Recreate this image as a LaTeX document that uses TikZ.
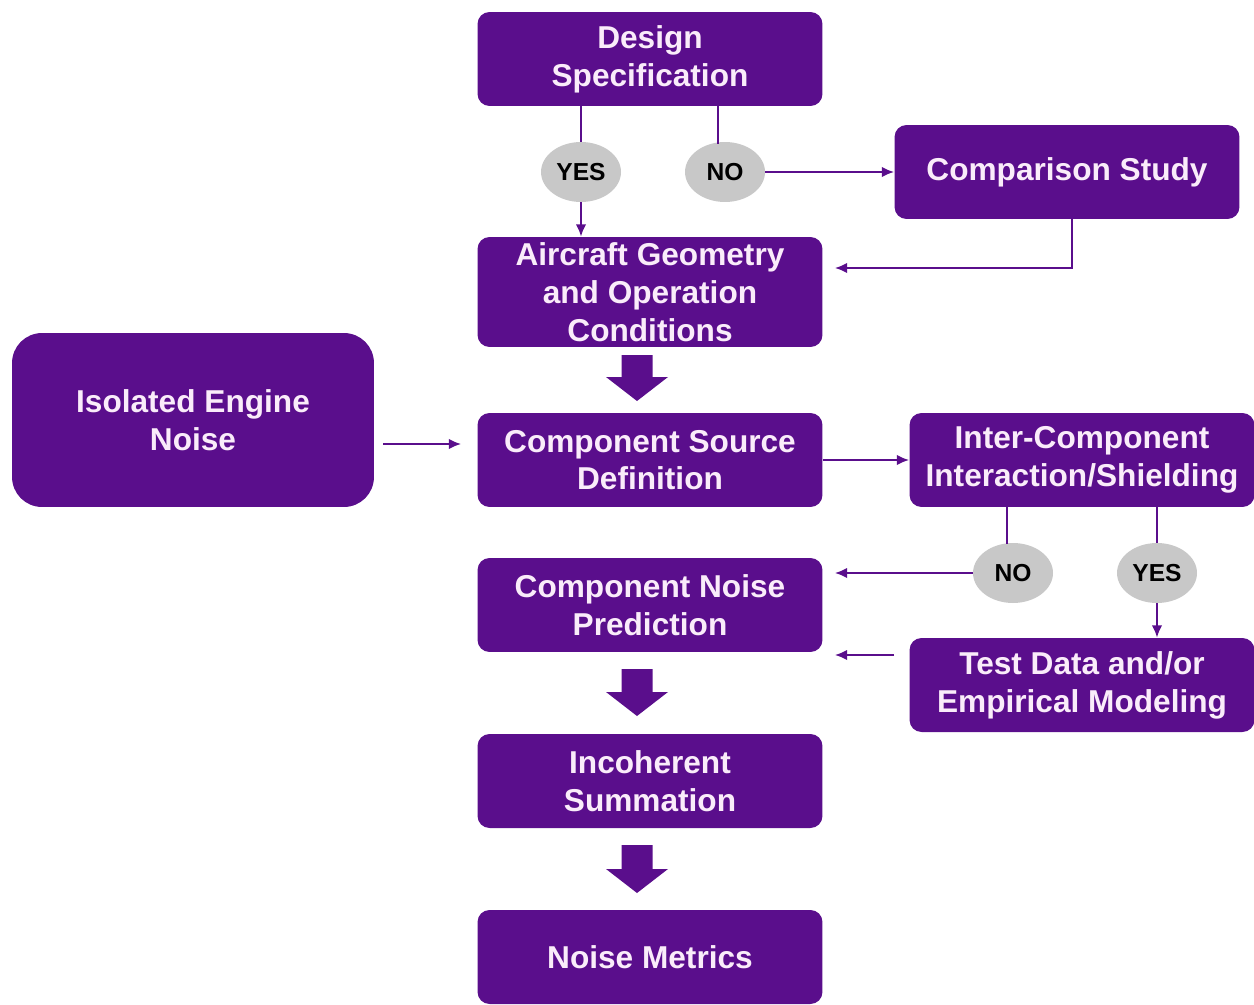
\documentclass[tikz,border=0pt]{standalone}
\usepackage{fontspec}
\setmainfont{Liberation Sans}
\usetikzlibrary{shapes.geometric,arrows.meta,calc}
\definecolor{pur}{RGB}{90,14,140}
\definecolor{boxtext}{RGB}{250,236,250}
\definecolor{ovalgray}{RGB}{200,200,200}
\tikzset{
  box/.style={draw=none, fill=pur, rounded corners=0.24cm, minimum width=6.9cm, minimum height=1.88cm,
    inner xsep=2pt, inner ysep=0pt, align=center, text=boxtext,
    font=\fontsize{18}{21.5}\selectfont\bfseries},
  bigbox/.style={box, rounded corners=0.6cm, minimum width=7.24cm, minimum height=3.48cm},
  oval/.style={ellipse, fill=ovalgray, draw=none, minimum width=1.6cm, minimum height=1.2cm, inner sep=0pt,
    text=black, font=\fontsize{14}{16}\selectfont\bfseries},
  conn/.style={draw=pur, line width=1.2pt},
  arr/.style={conn, -{Latex[length=7pt,width=6pt]}},
}
\begin{document}
\begin{tikzpicture}[x=0.02cm,y=-0.02cm]
\useasboundingbox (0,0) rectangle (1254,1004);
\node[box] (ds) at (650,59) {Design\\Specification};
\node[box] (cs) at (1067,172) {Comparison Study};
\node[box, minimum height=2.2cm] (air) at (650,292) {Aircraft Geometry\\and Operation\\Conditions};
\node[bigbox] (ien) at (193,420) {Isolated Engine\\Noise};
\node[box] (csd) at (650,460) {Component Source\\Definition};
\node[box] (ic) at (1082,460) {Inter-Component\\Interaction/Shielding};
\node[box] (cnp) at (650,605) {Component Noise\\Prediction};
\node[box] (td) at (1082,685) {Test Data and/or\\Empirical Modeling};
\node[box] (is) at (650,781) {Incoherent\\Summation};
\node[box] (nm) at (650,957) {Noise Metrics};

\node[oval] (y1) at (581,172) {YES};
\node[oval] (n1) at (725,172) {NO};
\node[oval] (n2) at (1013,573) {NO};
\node[oval] (y2) at (1157,573) {YES};

% connectors
\draw[conn] (ds.south -| y1) -- (y1);
\draw[arr] (y1) -- (y1 |- air.north);
\draw[conn] ($(ds.south -| n1)+(-7,0)$) -- ($(n1.north)+(-7,2)$);
\draw[arr] (n1) -- (cs.west);
\draw[arr] ($(cs.south)+(5,0)$) |- ($(air.east)+(12,-24)$);
\draw[arr] ($(ien.east)+(9,24)$) -- ($(csd.west)+(-16,-16)$);
\draw[arr] (csd.east) -- (ic.west);
\draw[conn] ($(ic.south -| n2)+(-6,0)$) -- ($(n2.north)+(-6,1)$);
\draw[conn] (ic.south -| y2) -- (y2);
\draw[arr] (n2) -- ($(cnp.east |- n2)+(12,0)$);
\draw[arr] (y2) -- (y2 |- td.north);
\draw[arr] ($(td.west)+(-15,-30)$) -- ($(cnp.east)+(12,50)$);

% block arrows
\foreach \t/\b in {355/401, 669/716, 845/893}
  \fill[pur] (621.5,\t) -- (652.5,\t) -- (652.5,\b-24) -- (668,\b-24) -- (637,\b)
     -- (606,\b-24) -- (621.5,\b-24) -- cycle;
\end{tikzpicture}
\end{document}
